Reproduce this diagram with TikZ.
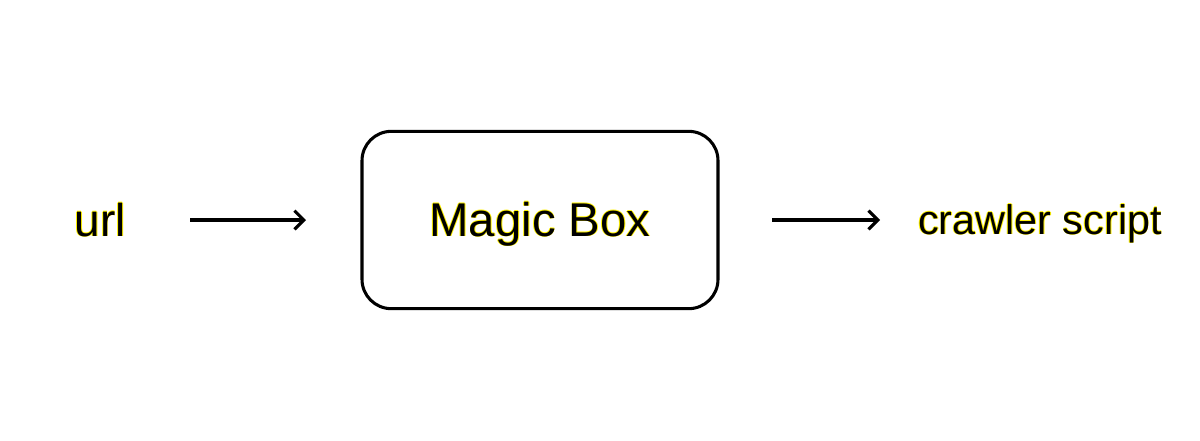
\documentclass[tikz,border=0pt]{standalone}
\usepackage{fontspec}
\setmainfont{Liberation Sans}
\usetikzlibrary{arrows.meta}
\newcommand{\glowtxt}[2]{\fontsize{#1}{#1}\selectfont\makebox[0pt]{%
\makebox[0pt]{\raisebox{0.6pt}{\color{yellow}#2}}%
\makebox[0pt]{\raisebox{-0.6pt}{\color{yellow}#2}}%
\makebox[0pt]{\hspace{1.2pt}\color{yellow}#2}%
\makebox[0pt]{\hspace{-1.2pt}\color{yellow}#2}%
\makebox[0pt]{#2}}}
\begin{document}
\begin{tikzpicture}[x=0.75pt,y=-0.75pt,
  lbl/.style={inner sep=0pt,anchor=base},
  arr/.style={-{Straight Barb[length=7pt,width=14pt]}},
  box/.style={draw,line width=2.3pt,rounded corners=22pt,minimum width=267pt,minimum height=133pt}]
\useasboundingbox (0,0) rectangle (1200,440);
\node[box] (m) at (540,220) {};
\node[lbl] (u) at (100,236) {\glowtxt{34.5pt}{url}};
\node[lbl] (mt) at (540,236) {\glowtxt{35.5pt}{Magic Box}};
\node[lbl] (c) at (1040,234) {\glowtxt{31pt}{crawler script}};
\coordinate (a1) at (190,220);
\coordinate (a2) at (306,220);
\coordinate (b1) at (772,220);
\coordinate (b2) at (880,220);
\draw[arr,line width=2.3pt] (a1) -- (a2);
\draw[arr,line width=2.3pt] (b1) -- (b2);
\end{tikzpicture}
\end{document}
